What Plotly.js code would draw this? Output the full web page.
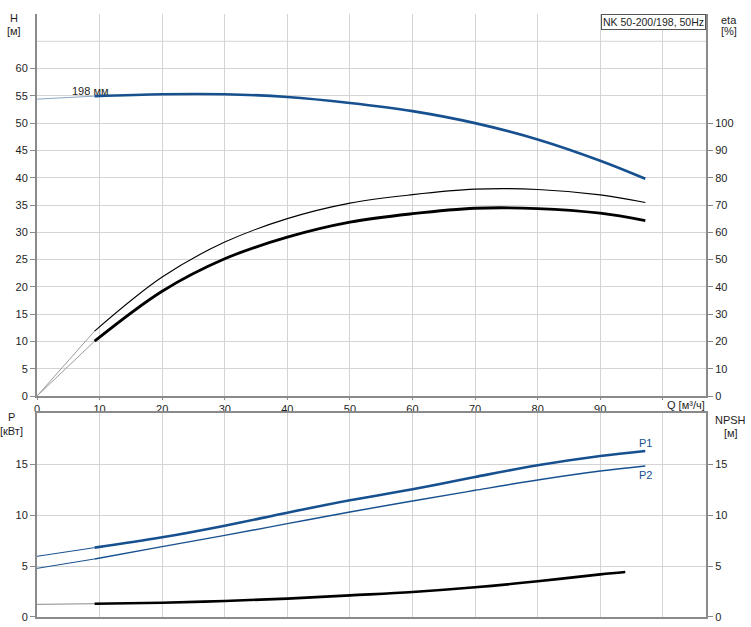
<!DOCTYPE html>
<html>
<head>
<meta charset="utf-8">
<script src="https://cdn.plot.ly/plotly-3.0.1.min.js"></script>
<style>html,body{margin:0;padding:0;background:#fff;}#chart{width:751px;height:627px;}</style>
</head>
<body>
<div id="chart"></div>
<script>
// ---- data ----
const qTicks = [0, 10, 20, 30, 40, 50, 60, 70, 80, 90, 100];
const qTickText = ["0", "10", "20", "30", "40", "50", "60", "70", "80", "90", ""];
const hTicks = [0, 5, 10, 15, 20, 25, 30, 35, 40, 45, 50, 55, 60];
const etaTicks = [0, 10, 20, 30, 40, 50, 60, 70, 80, 90, 100];
const pTicks = [0, 5, 10, 15];

const qH = [0, 9.2, 20, 30, 40, 50, 60, 70, 80, 90, 97.2];
const headH = [54.4, 54.95, 55.3, 55.3, 54.8, 53.7, 52.2, 50.0, 47.0, 43.1, 39.8];

const qEta = [0, 9.2, 20, 30, 40, 50, 60, 70, 80, 90, 97.2];
const etaUpper = [0, 23.8, 43.6, 56.4, 65, 70.7, 73.8, 75.8, 75.7, 73.7, 70.9];
const etaLower = [0, 20.1, 38.4, 50.3, 58.2, 63.7, 66.8, 68.8, 68.7, 67.0, 64.3];

const qP = [0, 9.2, 20, 30, 40, 50, 60, 70, 80, 90, 97.2];
const powerP1 = [5.95, 6.8, 7.81, 8.95, 10.23, 11.45, 12.52, 13.73, 14.87, 15.78, 16.27];
const powerP2 = [4.77, 5.69, 6.9, 8.0, 9.15, 10.3, 11.37, 12.42, 13.43, 14.31, 14.8];

const qN = [0, 9.2, 20, 30, 40, 50, 60, 70, 80, 90, 94];
const npsh = [1.24, 1.3, 1.4, 1.57, 1.8, 2.12, 2.45, 2.91, 3.5, 4.18, 4.41];

const curveLabel = "198 мм";
const boxLabel = "NK 50-200/198, 50Hz";

// ---- styles ----
const BLUE = "#17508f";
const LIGHTBLUE = "#8aa5c6";
const GRID = "#d4d4d4";
const AXIS = "#8a8a8a";
const TXT = "#1e1e1e";
const FONT = "Liberation Sans, Arial, sans-serif";
const SM = 1.0;

function lead(x, y, color, w, xa, ya) {
  return {x: x.slice(0, 2), y: y.slice(0, 2), xaxis: xa, yaxis: ya, mode: "lines",
          line: {color: color, width: w}, hoverinfo: "skip"};
}
function main(x, y, color, w, xa, ya) {
  return {x: x.slice(1), y: y.slice(1), xaxis: xa, yaxis: ya, mode: "lines",
          line: {color: color, width: w, shape: "spline", smoothing: SM}, hoverinfo: "skip"};
}

const traces = [
  lead(qH, headH, LIGHTBLUE, 1, "x", "y"),
  main(qH, headH, BLUE, 2.6, "x", "y"),
  lead(qEta, etaUpper, "#9a9a9a", 1, "x", "y3"),
  main(qEta, etaUpper, "#000", 1.1, "x", "y3"),
  lead(qEta, etaLower, "#9a9a9a", 1, "x", "y3"),
  main(qEta, etaLower, "#000", 2.8, "x", "y3"),
  lead(qP, powerP1, BLUE, 1, "x2", "y2"),
  main(qP, powerP1, BLUE, 2.6, "x2", "y2"),
  lead(qP, powerP2, BLUE, 1, "x2", "y2"),
  main(qP, powerP2, BLUE, 1.4, "x2", "y2"),
  lead(qN, npsh, "#8a8a8a", 1, "x2", "y4"),
  main(qN, npsh, "#000", 2.6, "x2", "y4")
];

const xMax = 106.9;
const tickFont = {family: FONT, size: 11, color: TXT};

const layout = {
  width: 751, height: 627,
  margin: {l: 37, r: 45, t: 14, b: 10},
  paper_bgcolor: "#fff", plot_bgcolor: "#fff",
  showlegend: false,
  font: {family: FONT, size: 11, color: TXT},
  xaxis: {domain: [0, 1], range: [0, xMax], anchor: "y", tickmode: "array",
          tickvals: qTicks, ticktext: qTickText, ticks: "outside", ticklen: 2, tickcolor: AXIS,
          showline: true, linecolor: AXIS, linewidth: 2, showgrid: true, gridcolor: GRID, gridwidth: 1,
          zeroline: false, tickfont: tickFont, fixedrange: true},
  yaxis: {domain: [0.3665, 1], range: [0, 70], anchor: "x", tickmode: "array", tickvals: hTicks,
          ticks: "outside", ticklen: 5, tickcolor: AXIS, showline: true, linecolor: AXIS, linewidth: 2,
          showgrid: true, gridcolor: GRID, gridwidth: 1, zeroline: false, tickfont: tickFont},
  yaxis3: {overlaying: "y", side: "right", anchor: "x", range: [0, 140], tickmode: "array", tickvals: etaTicks,
           ticks: "outside", ticklen: 5, tickcolor: AXIS, showline: true, linecolor: AXIS, linewidth: 2,
           showgrid: false, zeroline: false, tickfont: tickFont},
  xaxis2: {domain: [0, 1], range: [0, xMax], anchor: "y2", tickmode: "array", tickvals: qTicks,
           showticklabels: false, ticks: "", showline: true, mirror: true, linecolor: AXIS, linewidth: 2,
           showgrid: true, gridcolor: GRID, gridwidth: 1, zeroline: false},
  yaxis2: {domain: [0, 0.3383], range: [0, 20], anchor: "x2", tickmode: "array", tickvals: pTicks,
           ticks: "outside", ticklen: 5, tickcolor: AXIS, showline: true, linecolor: AXIS, linewidth: 2,
           showgrid: true, gridcolor: GRID, gridwidth: 1, zeroline: false, tickfont: tickFont},
  yaxis4: {overlaying: "y2", side: "right", anchor: "x2", range: [0, 20], tickmode: "array", tickvals: pTicks,
           ticks: "outside", ticklen: 5, tickcolor: AXIS, showline: true, linecolor: AXIS, linewidth: 2,
           showgrid: false, zeroline: false, tickfont: tickFont},
  shapes: [
    {type: "line", xref: "x", yref: "y", x0: 0, x1: xMax, y0: 65, y1: 65, line: {color: GRID, width: 1}, layer: "below"}
  ],
  annotations: [
    {text: "H", xref: "paper", yref: "paper", x: -0.0344, y: 0.993, xanchor: "center", yanchor: "middle", showarrow: false},
    {text: "[м]", xref: "paper", yref: "paper", x: -0.0344, y: 0.972, xanchor: "center", yanchor: "middle", showarrow: false},
    {text: "eta", xref: "paper", yref: "paper", x: 1.034, y: 0.990, xanchor: "center", yanchor: "middle", showarrow: false},
    {text: "[%]", xref: "paper", yref: "paper", x: 1.034, y: 0.972, xanchor: "center", yanchor: "middle", showarrow: false},
    {text: "P", xref: "paper", yref: "paper", x: -0.038, y: 0.3317, xanchor: "center", yanchor: "middle", showarrow: false},
    {text: "[кВт]", xref: "paper", yref: "paper", x: -0.038, y: 0.3085, xanchor: "center", yanchor: "middle", showarrow: false},
    {text: "NPSH", xref: "paper", yref: "paper", x: 1.037, y: 0.3267, xanchor: "center", yanchor: "middle", showarrow: false},
    {text: "[м]", xref: "paper", yref: "paper", x: 1.037, y: 0.305, xanchor: "center", yanchor: "middle", showarrow: false},
    {text: "Q [м³/ч]", xref: "x", yref: "paper", x: 100.4, y: 0.3516, xanchor: "left", yanchor: "middle", showarrow: false},
    {text: curveLabel, xref: "x", yref: "y", x: qH[1] - 0.6, y: 55.9, xanchor: "center", yanchor: "middle", showarrow: false},
    {text: "P1", xref: "x2", yref: "y2", x: qP[qP.length - 1], y: powerP1[powerP1.length - 1] + 0.75, xanchor: "center", yanchor: "middle", showarrow: false, font: {color: BLUE}},
    {text: "P2", xref: "x2", yref: "y2", x: qP[qP.length - 1], y: powerP2[powerP2.length - 1] - 0.9, xanchor: "center", yanchor: "middle", showarrow: false, font: {color: BLUE}},
    {text: boxLabel, xref: "paper", yref: "paper", x: 1, y: 1, xanchor: "right", yanchor: "top", showarrow: false,
     bordercolor: "#555", borderwidth: 1, borderpad: 1, bgcolor: "#fff", font: {size: 10.5, color: TXT}}
  ]
};

Plotly.newPlot("chart", traces, layout, {staticPlot: true, displayModeBar: false});
</script>
</body>
</html>
